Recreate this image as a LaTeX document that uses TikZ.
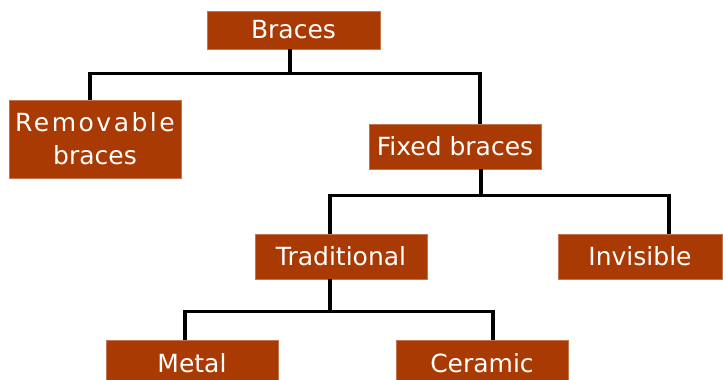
\documentclass[tikz,border=0pt]{standalone}
\usepackage{fontspec}
\setmainfont{DejaVu Sans}
\definecolor{boxred}{RGB}{170,58,4}
\begin{document}
\begin{tikzpicture}[x=1pt,y=-1pt,
  box/.style={fill=boxred,draw=boxred!70!white,line width=0.6pt,text=white,inner sep=0pt,
    font=\fontsize{25}{33}\selectfont,align=center},
  link/.style={line width=3.4pt,black}]
\useasboundingbox (0,0) rectangle (723,380);
\node[box,minimum width=173pt,minimum height=38pt] (braces) at (293.5,30) {Braces};
\node[box,minimum width=172pt,minimum height=78pt] (rem) at (95,139) {{\addfontfeature{LetterSpace=10}Removable}\\braces};
\node[box,minimum width=172pt,minimum height=45pt] (fixed) at (455,146.5) {Fixed braces};
\node[box,minimum width=172pt,minimum height=45pt] (trad) at (341,256.5) {Traditional};
\node[box,minimum width=164pt,minimum height=45pt] (invis) at (640,256.5) {Invisible};
\node[box,minimum width=172pt,minimum height=45pt,text depth=0pt] (metal) at (192,362.5) {Metal};
\node[box,minimum width=172pt,minimum height=45pt,text depth=0pt] (ceram) at (482,362.5) {Ceramic};
% connectors
\draw[link] ([xshift=-3.5pt]braces.south) -- ++(0,24) coordinate (j1);
\draw[link] ([xshift=-5pt]rem.north) |- (j1) -| ([xshift=25pt]fixed.north);
\draw[link] ([xshift=26pt]fixed.south) -- ++(0,26) coordinate (j2);
\draw[link] ([xshift=-11pt]trad.north) |- (j2) -| ([xshift=29pt]invis.north);
\draw[link] ([xshift=-11pt]trad.south) -- ++(0,32) coordinate (j3);
\draw[link] ([xshift=-7pt]metal.north) |- (j3) -| ([xshift=11pt]ceram.north);
\end{tikzpicture}
\end{document}
